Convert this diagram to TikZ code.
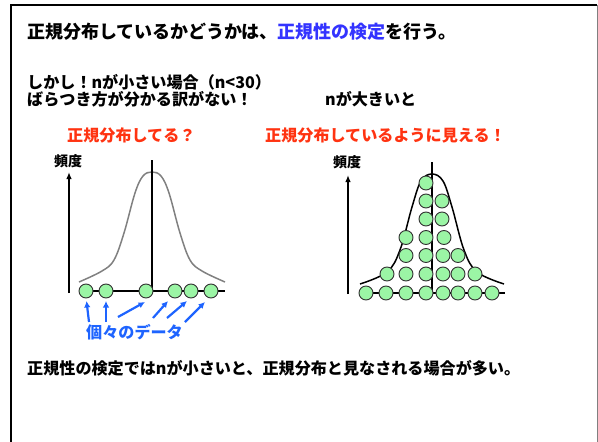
\documentclass[tikz,border=0pt]{standalone}
\usepackage{fontspec}
\newfontfamily\jp{Noto Sans CJK JP}
\usetikzlibrary{arrows.meta}
\definecolor{titleblue}{RGB}{51,51,255}
\definecolor{labred}{RGB}{255,51,17}
\definecolor{arrowblue}{RGB}{30,100,255}
\definecolor{dotgreen}{RGB}{155,245,165}
\begin{document}
\begin{tikzpicture}[x=1pt,y=-1pt,
  txt/.style={anchor=base west, inner sep=0pt, font=\jp\bfseries\fontsize{16.1pt}{18pt}\selectfont},
  bigtxt/.style={txt, font=\jp\bfseries\fontsize{18pt}{20pt}\selectfont},
  smalltxt/.style={txt, font=\jp\bfseries\fontsize{14pt}{16pt}\selectfont},
  dot/.style={circle, draw=black!80, fill=dotgreen, minimum size=14pt, inner sep=0pt, line width=0.9pt},
  axis/.style={line width=1.5pt, -{Latex[length=7pt,width=5.5pt]}},
  ptr/.style={draw=arrowblue, line width=2.2pt, -{Latex[length=6.5pt,width=6.5pt]}},
  thin/.style={line width=1.5pt}]
\useasboundingbox (0,0) rectangle (598,442);
% frame
\coordinate (f1) at (11,442); \coordinate (f2) at (11,5);
\coordinate (f3) at (597,5); \coordinate (f4) at (597,442);
\draw[line width=1.7pt] (f1) -- (f2) -- (f3);
\draw[gray, line width=1pt] (f3) -- (f4);
% texts
\node[bigtxt] (title) at (27,38) {正規分布しているかどうかは、\textcolor{titleblue}{正規性の検定}を行う。};
\node[txt] (l2) at (27,88.5) {しかし！nが小さい場合（n<30）};
\node[txt] (l3) at (27,105.5) {ばらつき方が分かる訳がない！};
\node[txt] (l4) at (325,105.5) {nが大きいと};
\node[txt, text=labred] (r1) at (67,141) {正規分布してる？};
\node[txt, text=labred] (r2) at (265,141) {正規分布しているように見える！};
\node[txt] (bottom) at (27,374) {正規性の検定ではnが小さいと、正規分布と見なされる場合が多い。};
\node[smalltxt] (fl) at (54,166) {頻度};
\node[smalltxt] (fr) at (333,167) {頻度};
\node[txt, text=arrowblue] (ind) at (86,338) {個々のデータ};
% left diagram
\coordinate (ly0) at (69,293); \coordinate (ly1) at (69,172);
\draw[axis] (ly0) -- (ly1);
\draw[gray, line width=1.5pt] plot[smooth, tension=0.6] coordinates {(79,282) (102,271) (114,260) (124,233) (135,193) (143,176) (152,172) (161,176) (169,193) (180,233) (190,260) (202,271) (225,282)};
\coordinate (lb0) at (79,291); \coordinate (lb1) at (225,291);
\draw[thin] (lb0) -- (lb1);
\coordinate (lv0) at (152,291); \coordinate (lv1) at (152,160);
\draw[thin] (lv0) -- (lv1);
\foreach \x [count=\i] in {86,106,146,175,191,211} {
  \node[dot] (ld\i) at (\x,291) {};
}
\coordinate (t1) at (89,322); \coordinate (h1) at (86.5,301);
\coordinate (t2) at (106,322); \coordinate (h2) at (106,301);
\coordinate (t3) at (118,317); \coordinate (h3) at (145,302);
\coordinate (t4) at (153,318); \coordinate (h4) at (168,301);
\coordinate (t5) at (167,318); \coordinate (h5) at (187,301);
\coordinate (t6) at (185,322); \coordinate (h6) at (205,302);
\foreach \i in {1,...,6} { \draw[ptr] (t\i) -- (h\i); }
% right diagram
\coordinate (ry0) at (348,294); \coordinate (ry1) at (348,175);
\draw[axis] (ry0) -- (ry1);
\coordinate (rb0) at (360,293); \coordinate (rb1) at (505,293);
\draw[thin] (rb0) -- (rb1);
\coordinate (rv0) at (432,293); \coordinate (rv1) at (432,162);
\draw[thin] (rv0) -- (rv1);
\draw[line width=1.5pt] plot[smooth, tension=0.6] coordinates {(360,284) (387,272) (400,250) (412,207) (421,181) (432,174) (443,181) (452,207) (464,250) (477,272) (504,284)};
\foreach \x [count=\i] in {366,386,406,426,443,458,475,492} { \node[dot] (ra\i) at (\x,293) {}; }
\foreach \x [count=\i] in {387,406,426,443,458,475} { \node[dot] (rb\i) at (\x,274) {}; }
\foreach \x [count=\i] in {406,426,443,458} { \node[dot] (rc\i) at (\x,255.5) {}; }
\foreach \x [count=\i] in {406,426,444} { \node[dot] (rd\i) at (\x,237.5) {}; }
\foreach \x [count=\i] in {426,442} { \node[dot] (re\i) at (\x,219) {}; }
\foreach \x [count=\i] in {426,442} { \node[dot] (rf\i) at (\x,201) {}; }
\node[dot] (rg1) at (426,183) {};
\end{tikzpicture}
\end{document}
